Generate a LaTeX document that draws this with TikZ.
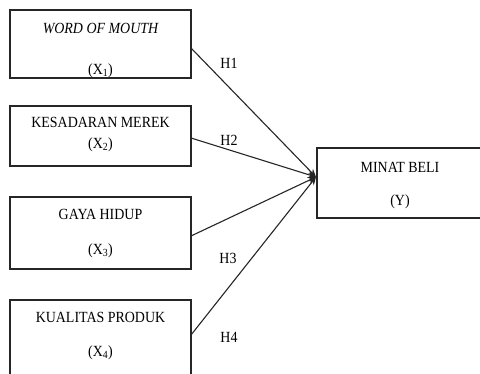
\documentclass[tikz,border=0pt]{standalone}
\usepackage{fontspec}
\setmainfont{Liberation Serif}[FakeStretch=0.9]
\usetikzlibrary{arrows.meta}
\begin{document}
\begin{tikzpicture}[x=1pt,y=-1pt,
  box/.style={draw=black!85,line width=1.3pt,inner sep=0pt,outer sep=0pt,fill=none},
  txt/.style={inner sep=0pt,font=\fontsize{15.5}{18}\selectfont},
  hyp/.style={inner sep=0pt,font=\fontsize{15.5}{18}\selectfont},
  link/.style={draw=black!85,line width=1.1pt,-{Stealth[length=8pt,width=7pt]}}]
\useasboundingbox[fill=white] (0,0) rectangle (480,374);
% boxes
\node[box,minimum width=181pt,minimum height=68pt] (b1) at (100.5,44) {};
\node[box,minimum width=181pt,minimum height=60pt] (b2) at (100.5,136) {};
\node[box,minimum width=181pt,minimum height=72pt] (b3) at (100.5,233) {};
\node[box,minimum width=181pt,minimum height=84pt] (b4) at (100.5,342) {};
\node[box,minimum width=166pt,minimum height=70pt] (y) at (400,183) {};
% texts
\node[txt] (t1a) at (100.5,28) {\itshape WORD OF MOUTH};
\node[txt] (t1b) at (100.5,71) {(X\textsubscript{1})};
\node[txt] (t2a) at (100.5,122) {KESADARAN MEREK};
\node[txt] (t2b) at (100.5,145) {(X\textsubscript{2})};
\node[txt] (t3a) at (100.5,214) {GAYA HIDUP};
\node[txt] (t3b) at (100.5,251) {(X\textsubscript{3})};
\node[txt] (t4a) at (100.5,317) {KUALITAS PRODUK};
\node[txt] (t4b) at (100.5,353) {(X\textsubscript{4})};
\node[txt] (tya) at (400,167) {MINAT BELI};
\node[txt] (tyb) at (400,202) {(Y)};
% convergence point
\coordinate (tip) at ([xshift=-1pt,yshift=6pt]y.west);
% connectors
\draw[link] ([yshift=-4pt]b1.east) -- (tip);
\draw[link] ([yshift=-2pt]b2.east) -- (tip);
\draw[link] ([yshift=-3pt]b3.east) -- (tip);
\draw[link] ([yshift=7pt]b4.east) -- (tip);
% hypothesis labels
\node[hyp] (h1) at (229,63) {H1};
\node[hyp] (h2) at (229,140) {H2};
\node[hyp] (h3) at (228,258) {H3};
\node[hyp] (h4) at (229,337) {H4};
\end{tikzpicture}
\end{document}
